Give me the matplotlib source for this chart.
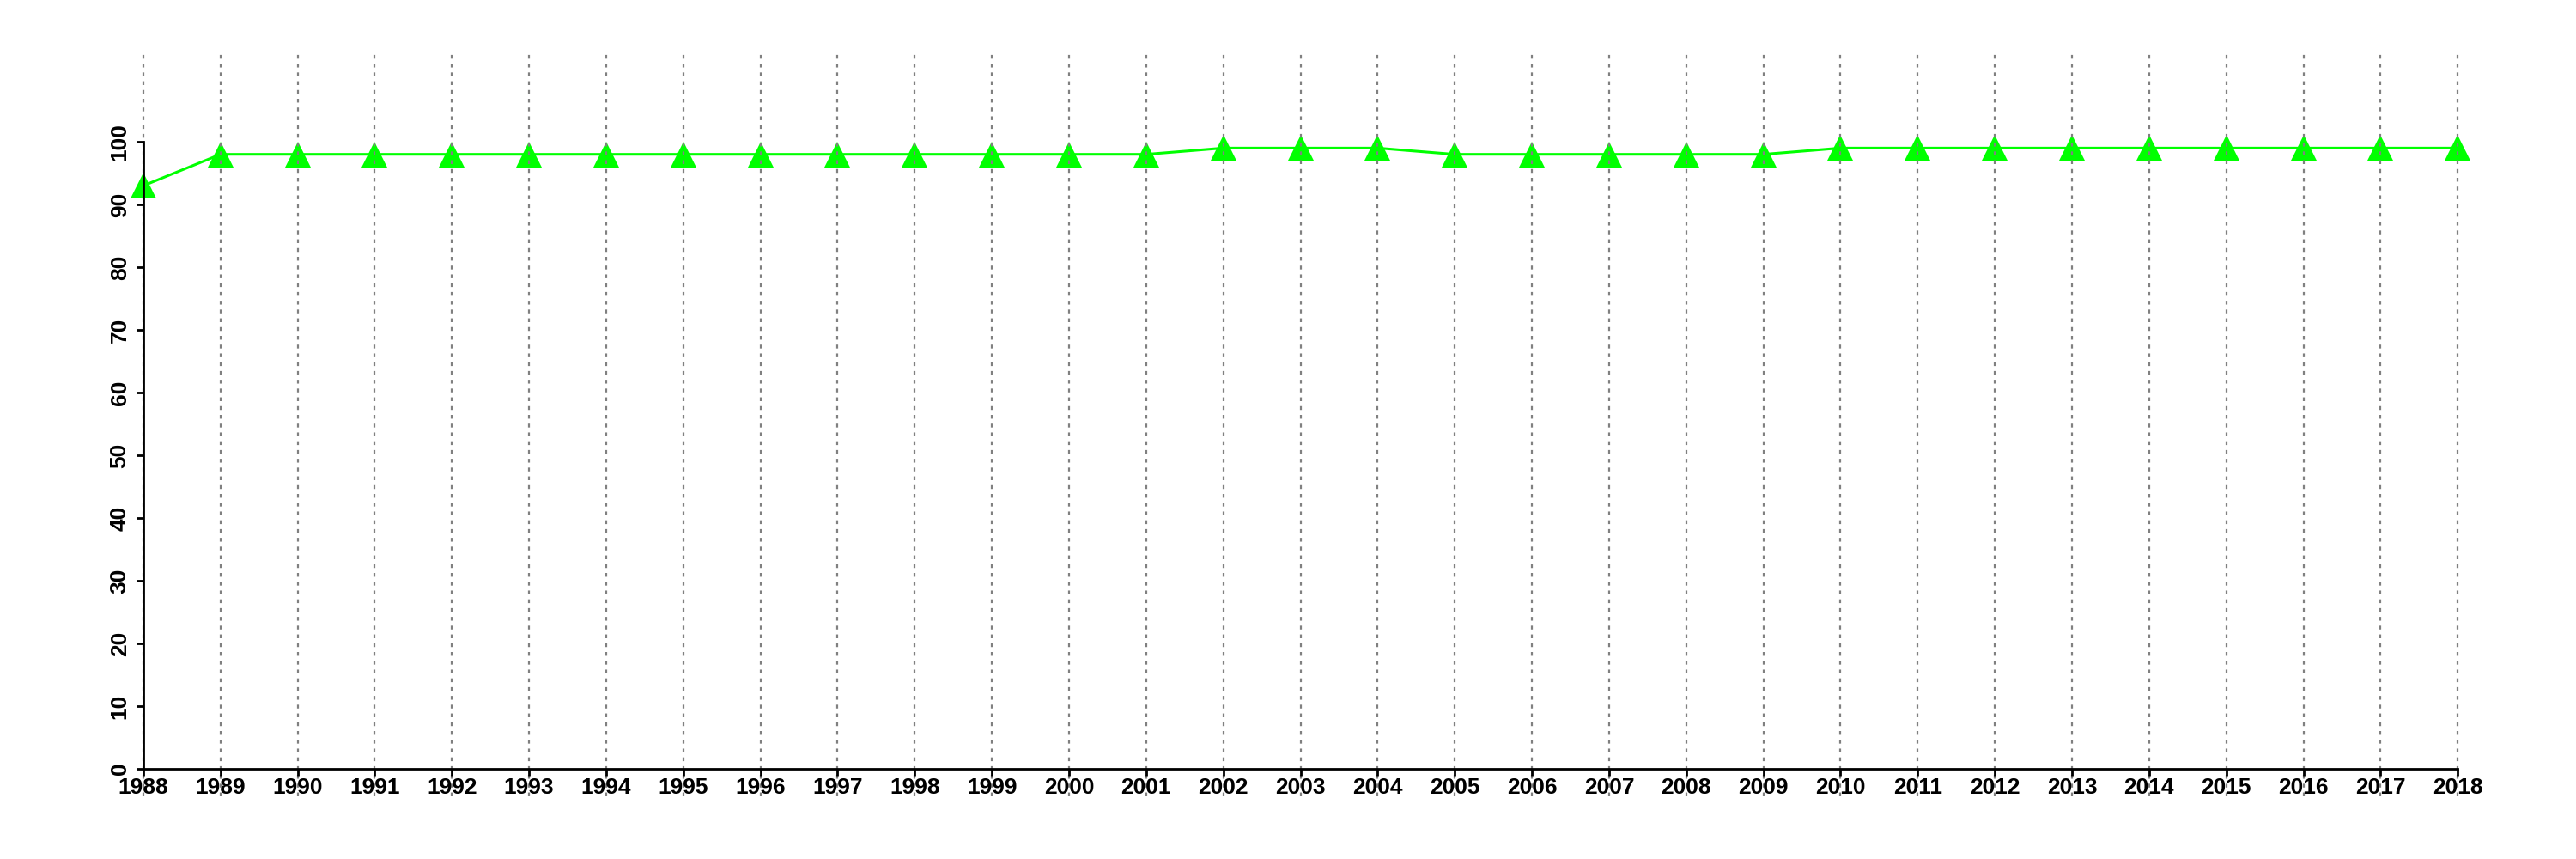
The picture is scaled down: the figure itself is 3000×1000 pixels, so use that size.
import matplotlib
matplotlib.use('Agg')
import matplotlib.pyplot as plt

# data
years = list(range(1988, 2019))
values = [93, 98, 98, 98, 98, 98, 98, 98, 98, 98, 98, 98, 98, 98,
          99, 99, 99, 98, 98, 98, 98, 98, 99, 99, 99, 99, 99, 99, 99, 99, 99]
yticks = list(range(0, 101, 10))

plt.rcParams['font.family'] = ['Liberation Sans', 'DejaVu Sans']
plt.rcParams['font.weight'] = 'bold'

fig = plt.figure(figsize=(30, 10), dpi=100)
ax = fig.add_axes([0.0197, 0.073, 0.9703, 0.867])

ax.plot(years, values, color='#00ff00', lw=2.2, marker='^', markersize=21,
        markeredgewidth=0, zorder=2)

ax.set_xlim(1986.8, 2019.2)
ax.set_ylim(-4.4, 114.4)
ax.set_xticks(years)
ax.set_xticklabels([str(y) for y in years])
ax.set_yticks(yticks)
ax.set_yticklabels([str(v) for v in yticks])

# vertical dotted grid on top of the line
ax.set_axisbelow(False)
ax.grid(axis='x', color='#808080', linestyle=(0, (2, 2.6)), lw=1.6)
ax.grid(axis='y', visible=False)

for s in ['top', 'right']:
    ax.spines[s].set_visible(False)
ax.spines['left'].set_position(('data', 1988))
ax.spines['bottom'].set_position(('data', 0))
ax.spines['left'].set_bounds(0, 100)
ax.spines['bottom'].set_bounds(1988, 2018)
for s in ['left', 'bottom']:
    ax.spines[s].set_linewidth(2)
    ax.spines[s].set_zorder(4)

ax.tick_params(axis='both', length=6, width=2, labelsize=19, pad=1)
ax.tick_params(axis='y', labelrotation=90, pad=5)
for lab in ax.get_yticklabels():
    lab.set_va('center')

fig.savefig('out.png', dpi=100)
